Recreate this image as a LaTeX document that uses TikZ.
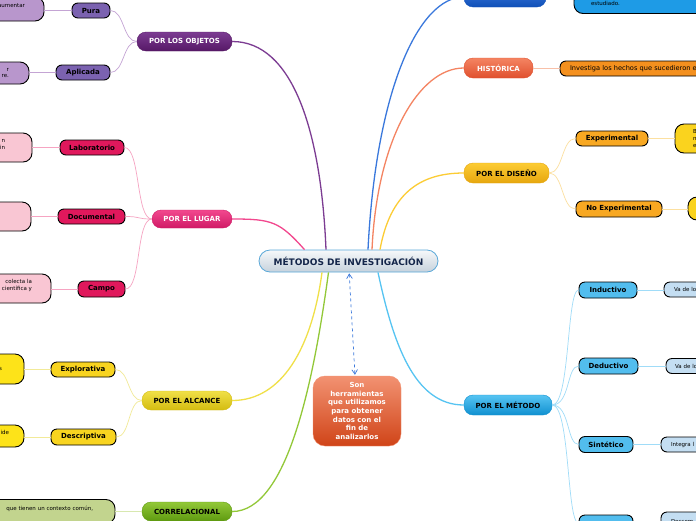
\documentclass[tikz,border=0pt]{standalone}
\usepackage{fontspec}
\setmainfont{DejaVu Sans}
\usepackage{tikz}
\usetikzlibrary{arrows.meta}
\definecolor{CoreTop}{HTML}{F6F8FA}
\definecolor{CoreLo}{HTML}{C6D2DC}
\definecolor{CoreLine}{HTML}{5AA8D8}
\definecolor{Navy}{HTML}{14264A}
\definecolor{NoteTop}{HTML}{F29272}
\definecolor{NoteLo}{HTML}{D04418}
\definecolor{PlumHi}{HTML}{7C3C92}
\definecolor{PlumLo}{HTML}{561866}
\definecolor{PlumSub}{HTML}{7B62B0}
\definecolor{PlumLeaf}{HTML}{B896CC}
\definecolor{PlumLt}{HTML}{C4A4D4}
\definecolor{RoseHi}{HTML}{F2488E}
\definecolor{RoseLo}{HTML}{D01A66}
\definecolor{RoseSub}{HTML}{E0185C}
\definecolor{RoseLeaf}{HTML}{F9C6D3}
\definecolor{RoseLt}{HTML}{F6A4C2}
\definecolor{LemonHi}{HTML}{F0E048}
\definecolor{LemonLo}{HTML}{D4BC10}
\definecolor{LemonSub}{HTML}{F8D420}
\definecolor{LemonLeaf}{HTML}{FDE319}
\definecolor{LemonLt}{HTML}{F2EA98}
\definecolor{LimeHi}{HTML}{92C838}
\definecolor{LimeLo}{HTML}{5E9A10}
\definecolor{LimeLeaf}{HTML}{C2D48E}
\definecolor{LimeLt}{HTML}{D8E8B0}
\definecolor{RoyalHi}{HTML}{3A78DC}
\definecolor{RoyalLo}{HTML}{1050B8}
\definecolor{RoyalLeaf}{HTML}{1E9BE6}
\definecolor{EmberHi}{HTML}{F48462}
\definecolor{EmberLo}{HTML}{E0502E}
\definecolor{EmberLeaf}{HTML}{F4901E}
\definecolor{EmberLt}{HTML}{F8C0A8}
\definecolor{AmberHi}{HTML}{FCCC34}
\definecolor{AmberLo}{HTML}{E6A60E}
\definecolor{AmberSub}{HTML}{F8A822}
\definecolor{AmberLeaf}{HTML}{FAD31E}
\definecolor{AmberLt}{HTML}{FCE0A0}
\definecolor{SkyHi}{HTML}{56C4F2}
\definecolor{SkyLo}{HTML}{1090D0}
\definecolor{SkySub}{HTML}{52BDEE}
\definecolor{SkyLeaf}{HTML}{C4DEF2}
\definecolor{SkyLt}{HTML}{A0DCF8}
\tikzset{
  topic/.style={rounded corners=9pt, inner sep=0pt, minimum height=19pt,
                font=\bfseries\fontsize{7}{8}\selectfont},
  core/.style={topic, minimum width=179pt, minimum height=22pt, top color=CoreTop,
               bottom color=CoreLo, draw=CoreLine, line width=0.8pt, text=Navy,
               rounded corners=11pt, font=\bfseries\fontsize{9}{10}\selectfont},
  note/.style={rounded corners=12pt, minimum width=88pt, minimum height=70pt, inner sep=0pt,
               top color=NoteTop, bottom color=NoteLo, draw=NoteTop, text=white, align=center,
               font=\bfseries\fontsize{7}{8.6}\selectfont},
  plum/.style={topic, top color=PlumHi, bottom color=PlumLo, draw=PlumLo, text=white},
  rose/.style={topic, top color=RoseHi, bottom color=RoseLo, draw=RoseLo, text=white},
  lemon/.style={topic, top color=LemonHi, bottom color=LemonLo, draw=LemonLo, text=black},
  lime/.style={topic, top color=LimeHi, bottom color=LimeLo, draw=LimeLo, text=black},
  royal/.style={topic, top color=RoyalHi, bottom color=RoyalLo, draw=RoyalLo, text=white},
  ember/.style={topic, top color=EmberHi, bottom color=EmberLo, draw=EmberLo, text=white},
  amber/.style={topic, top color=AmberHi, bottom color=AmberLo, draw=AmberLo, text=black},
  sky/.style={topic, top color=SkyHi, bottom color=SkyLo, draw=SkyLo, text=black},
  sub/.style={draw=black, line width=0.9pt, rounded corners=6pt, minimum height=15pt,
              inner sep=0pt, font=\bfseries\fontsize{7}{8}\selectfont},
  leaf/.style={draw=black, line width=0.9pt, rounded corners=9pt, inner ysep=0pt,
               font=\fontsize{5.5}{6.8}\selectfont},
  branch/.style={line width=1.3pt},
  twig/.style={line width=0.7pt},
  dashlink/.style={{Straight Barb[length=1.6mm,width=2mm]}-{Straight Barb[length=1.6mm,width=2mm]},
                   dashed, line width=0.7pt, draw=RoyalHi, shorten <=1pt, shorten >=1pt},
}
\begin{document}
\begin{tikzpicture}[x=1pt,y=-1pt]
  \useasboundingbox (0,0) rectangle (696,520);
  \fill[white] (0,0) rectangle (696,520);
  \clip (0,0) rectangle (696,520);
  % centre
  \node[core] (core) at (348.5,261) {MÉTODOS DE INVESTIGACIÓN};
  \node[note] (note) at (357,411) {Son\\herramientas\\que utilizamos\\para obtener\\datos con el\\fin de\\analizarlos};
  \draw[dashlink] (core) -- (note);

  % left: por los objetos
  \node[plum, minimum width=95pt] (objetos) at (184.5,41.5) {POR LOS OBJETOS};
  \node[sub, fill=PlumSub, minimum width=38pt] (pura) at (91,10.5) {Pura};
  \node[sub, fill=PlumSub, minimum width=54pt] (aplicada) at (83,72.5) {Aplicada};
  \node[leaf, fill=PlumLeaf, minimum height=24pt, inner xsep=19pt, text width=62pt, align=right] (puraleaf) at (-6,9) {aumentar\\\mbox{}};
  \node[leaf, fill=PlumLeaf, minimum height=22pt, inner xsep=20pt, text width=60pt, align=right] (aplicadaleaf) at (-21,73) {r\\re.};
  \draw[branch, PlumHi] ([xshift=-22.5pt]core.north) .. controls +(-5,-120) and +(60,0) .. (objetos.east);
  \draw[twig, PlumLt] (objetos.west) .. controls +(-14,0) and +(14,0) .. (pura.east);
  \draw[twig, PlumLt] (objetos.west) .. controls +(-14,0) and +(14,0) .. (aplicada.east);
  \draw[twig, PlumLt] (pura.west) -- (pura.west -| puraleaf.east);
  \draw[twig, PlumLt] (aplicada.west) -- (aplicada.west -| aplicadaleaf.east);

  % left: por el lugar
  \node[rose, minimum width=80pt, minimum height=18pt] (lugar) at (192,219) {POR EL LUGAR};
  \node[sub, fill=RoseSub, minimum width=64pt] (laboratorio) at (92,147.5) {Laboratorio};
  \node[sub, fill=RoseSub, minimum width=67pt] (documental) at (91.5,216.5) {Documental};
  \node[sub, fill=RoseSub, minimum width=47pt, minimum height=16pt] (campo) at (101.5,289) {Campo};
  \node[leaf, fill=RoseLeaf, minimum height=29pt, inner xsep=27pt, text width=46pt, align=right] (laboratorioleaf) at (-18,147.5) {n\\in\\\mbox{}};
  \node[leaf, fill=RoseLeaf, minimum height=29pt, minimum width=100pt] (documentalleaf) at (-19,216.5) {};
  \node[leaf, fill=RoseLeaf, minimum height=29pt, inner xsep=19pt, text width=62pt, align=right] (campoleaf) at (1,288.5) {colecta la\\científica y\\\mbox{}};
  \draw[branch, RoseHi] ([xshift=-44pt]core.north) .. controls +(-25,-28) and +(40,0) .. (lugar.east);
  \draw[twig, RoseLt] (lugar.west) .. controls +(-16,0) and +(16,0) .. (laboratorio.east);
  \draw[twig, RoseLt] (lugar.west) .. controls +(-16,0) and +(16,0) .. (documental.east);
  \draw[twig, RoseLt] (lugar.west) .. controls +(-16,0) and +(16,0) .. (campo.east);
  \draw[twig, RoseLt] (laboratorio.west) -- (laboratorio.west -| laboratorioleaf.east);
  \draw[twig, RoseLt] (documental.west) -- (documental.west -| documentalleaf.east);
  \draw[twig, RoseLt] (campo.west) -- (campo.west -| campoleaf.east);

  % left: por el alcance
  \node[lemon, minimum width=90pt] (alcance) at (187,400.5) {POR EL ALCANCE};
  \node[sub, fill=LemonSub, minimum width=64pt] (explorativa) at (83,369.5) {Explorativa};
  \node[sub, fill=LemonSub, minimum width=65pt, minimum height=16pt] (descriptiva) at (83.5,437) {Descriptiva};
  \node[leaf, fill=LemonLeaf, minimum height=30pt, inner xsep=22pt, text width=56pt, align=right] (explorativaleaf) at (-26,369) {s};
  \node[leaf, fill=LemonLeaf, minimum height=22pt, inner xsep=15pt, text width=70pt, align=right] (descriptivaleaf) at (-26,436) {ide\\\mbox{}};
  \draw[branch, LemonHi] ([xshift=-26.5pt]core.south) .. controls +(-10,75) and +(50,0) .. (alcance.east);
  \draw[twig, LemonLt] (alcance.west) .. controls +(-14,0) and +(14,0) .. (explorativa.east);
  \draw[twig, LemonLt] (alcance.west) .. controls +(-14,0) and +(14,0) .. (descriptiva.east);
  \draw[twig, LemonLt] (explorativa.west) -- (explorativa.west -| explorativaleaf.east);
  \draw[twig, LemonLt] (descriptiva.west) -- (descriptiva.west -| descriptivaleaf.east);

  % left: correlacional
  \node[lime, minimum width=90pt] (correlacional) at (187,511.5) {CORRELACIONAL};
  \node[leaf, fill=LimeLeaf, minimum height=24pt, inner xsep=22pt, text width=156pt, align=right] (correlacionalleaf) at (15,511.5) {que tienen un contexto común,\\\mbox{}};
  \draw[branch, LimeHi] ([xshift=-20pt]core.south) .. controls +(-15,110) and +(55,0) .. (correlacional.east);
  \draw[twig, LimeLt] (correlacional.west) -- (correlacional.west -| correlacionalleaf.east);

  % right: top branch
  \node[royal, minimum width=82pt, minimum height=20pt] (explicativo) at (505,-3) {};
  \node[leaf, fill=RoyalLeaf, minimum height=22pt, inner xsep=17pt, text width=140pt, align=left] (explicativoleaf) at (661,2.5) {\mbox{}\\estudiado.};
  \draw[branch, RoyalHi] ([xshift=19.5pt]core.north) .. controls +(8,-160) and +(-45,0) .. (explicativo.west);
  \draw[twig, RoyalLeaf!50] (explicativo.east) -- (explicativo.east -| explicativoleaf.west);

  % right: historica
  \node[ember, minimum width=69pt, minimum height=20pt] (historica) at (498.5,68) {HISTÓRICA};
  \node[leaf, fill=EmberLeaf, minimum height=15pt, rounded corners=6pt, inner xsep=10pt, text width=200pt, align=left,
        font=\fontsize{6.6}{7.5}\selectfont] (historicaleaf) at (670,68.5) {Investiga los hechos que sucedieron en el};
  \draw[branch, EmberHi] ([xshift=23.5pt]core.north) .. controls +(5,-110) and +(-45,0) .. (historica.west);
  \draw[twig, EmberLt] (historica.east) -- (historica.east -| historicaleaf.west);

  % right: por el diseno
  \node[amber, minimum width=85pt, minimum height=20pt] (diseno) at (506.5,173) {POR EL DISEÑO};
  \node[sub, fill=AmberSub, minimum width=72pt] (experimental) at (612,138.5) {Experimental};
  \node[sub, fill=AmberSub, minimum width=86pt, minimum height=16pt] (noexperimental) at (619,209) {No Experimental};
  \node[leaf, fill=AmberLeaf, minimum height=29pt, inner xsep=18pt, text width=60pt, align=left] (experimentalleaf) at (723,138.5) {B\\n\\e};
  \node[leaf, fill=AmberLeaf, minimum height=23pt, minimum width=96pt] (noexperimentalleaf) at (736,208.5) {};
  \draw[branch, AmberHi] ([xshift=31.5pt]core.north) .. controls +(10,-55) and +(-45,0) .. (diseno.west);
  \draw[twig, AmberLt] (diseno.east) .. controls +(14,0) and +(-14,0) .. (experimental.west);
  \draw[twig, AmberLt] (diseno.east) .. controls +(14,0) and +(-14,0) .. (noexperimental.west);
  \draw[twig, AmberLt] (experimental.east) -- (experimental.east -| experimentalleaf.west);
  \draw[twig, AmberLt] (noexperimental.east) -- (noexperimental.east -| noexperimentalleaf.west);

  % right: por el metodo
  \node[sky, minimum width=88pt, minimum height=20pt] (metodo) at (508,405) {POR EL MÉTODO};
  \node[sub, fill=SkySub, minimum width=58pt, minimum height=16pt] (inductivo) at (608,290) {Inductivo};
  \node[sub, fill=SkySub, minimum width=59pt, minimum height=16pt] (deductivo) at (608.5,366) {Deductivo};
  \node[sub, fill=SkySub, minimum width=54pt, minimum height=16pt] (sintetico) at (606,444.5) {Sintético};
  \node[sub, fill=SkySub, minimum width=54pt, minimum height=16pt] (analitico) at (606,523) {};
  \node[leaf, fill=SkyLeaf, minimum height=15pt, rounded corners=6pt, inner xsep=10pt, text width=80pt, align=left] (inductivoleaf) at (714,289.5) {Va de lo};
  \node[leaf, fill=SkyLeaf, minimum height=15pt, rounded corners=6pt, inner xsep=9pt, text width=80pt, align=left] (deductivoleaf) at (715,366) {Va de lo};
  \node[leaf, fill=SkyLeaf, minimum height=15pt, rounded corners=6pt, inner xsep=10pt, text width=80pt, align=left] (sinteticoleaf) at (711,444.5) {Integra l};
  \node[leaf, fill=SkyLeaf, minimum height=20pt, rounded corners=6pt, inner xsep=10pt, text width=80pt, align=left] (analiticoleaf) at (711,522) {Descom};
  \draw[branch, SkyHi] ([xshift=29.5pt]core.south) .. controls +(15,70) and +(-50,0) .. (metodo.west);
  \foreach \m in {inductivo,deductivo,sintetico,analitico}{
    \draw[twig, SkyLt] (metodo.east) .. controls +(18,0) and +(-12,0) .. (\m.west);
    \draw[twig, SkyLt] (\m.east) -- (\m.east -| \m leaf.west);
  }
\end{tikzpicture}
\end{document}
